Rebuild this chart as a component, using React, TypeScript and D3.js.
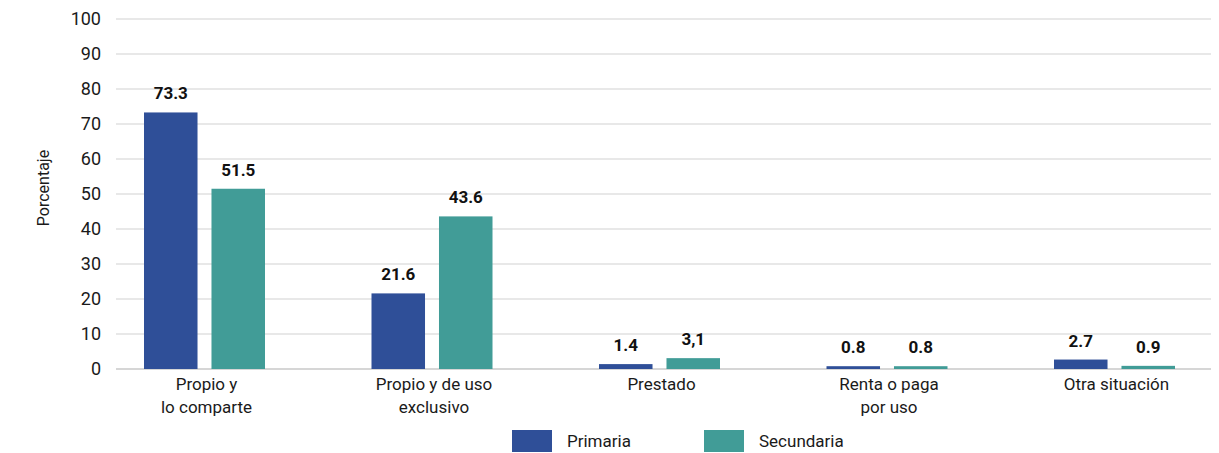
import * as React from "react"
import * as d3 from "d3"

const categories = [["Propio y", "lo comparte"], ["Propio y de uso", "exclusivo"], ["Prestado"], ["Renta o paga", "por uso"], ["Otra situación"]]
const seriesNames = ["Primaria", "Secundaria"]
const primaria = [73.3, 21.6, 1.4, 0.8, 2.7]
const secundaria = [51.5, 43.6, 3.1, 0.8, 0.9]
const primariaLabels = ["73.3", "21.6", "1.4", "0.8", "2.7"]
const secundariaLabels = ["51.5", "43.6", "3,1", "0.8", "0.9"]
const yTicks = [0, 10, 20, 30, 40, 50, 60, 70, 80, 90, 100]
const colors = ["#2F4F98", "#419C97"]

const App = () => {
    const [w, h] = [1219, 453]
    const font = "Roboto, 'Liberation Sans', sans-serif"
    const keys = categories.map((_, i) => String(i))

    const yScale = d3.scaleLinear().domain([0, 100]).range([369, 19])

    // group centres
    const xScale = d3.scalePoint().domain(keys).range([204.5, 1114.5])
    const sub = d3.scaleBand().domain(seriesNames).range([-60.5, 60.5]).paddingInner(0.207)

    const values = [primaria, secundaria]
    const labels = [primariaLabels, secundariaLabels]

    return (
        <svg width={w} height={h} style={{ position: "absolute", left: 0, top: 0 }}>
            {yTicks.map((t, i) => (
                <g key={i}>
                    <line x1={116} x2={1211} y1={yScale(t)} y2={yScale(t)} stroke={t === 0 ? "#d6d6d6" : "#e0e0e0"} strokeWidth={t === 0 ? 2 : 1.5} />
                    <text x={101} y={yScale(t)} dy="0.35em" textAnchor="end" fontSize={18} fontFamily={font} fill="#1a1a1a">{t}</text>
                </g>
            ))}
            <text transform={`translate(49,188) rotate(-90)`} textAnchor="middle" fontSize={16} fontFamily={font} fill="#1a1a1a">Porcentaje</text>

            {keys.map((k, i) => (
                <g key={k} transform={`translate(${xScale(k)},0)`}>
                    {seriesNames.map((s, j) => {
                        const v = values[j][i]
                        const x = sub(s) ?? 0
                        return (
                            <g key={s}>
                                <rect x={x} y={yScale(v)} width={sub.bandwidth()} height={yScale(0) - yScale(v)} fill={colors[j]} />
                                <text x={x + sub.bandwidth() / 2} y={yScale(v) - 13} textAnchor="middle" fontSize={17} fontWeight="bold" fontFamily={font} fill="#111">{labels[j][i]}</text>
                            </g>
                        )
                    })}
                    {categories[i].map((line, li) => (
                        <text key={li} x={2} y={390 + li * 23} textAnchor="middle" fontSize={17} fontFamily={font} fill="#1a1a1a">{line}</text>
                    ))}
                </g>
            ))}

            {seriesNames.map((s, j) => (
                <g key={s} transform={`translate(${512 + j * 192},430)`}>
                    <rect x={0} y={0} width={40} height={22} fill={colors[j]} />
                    <text x={55} y={11} dy="0.35em" fontSize={17} fontFamily={font} fill="#1a1a1a">{s}</text>
                </g>
            ))}
        </svg>
    )
}

export default App
